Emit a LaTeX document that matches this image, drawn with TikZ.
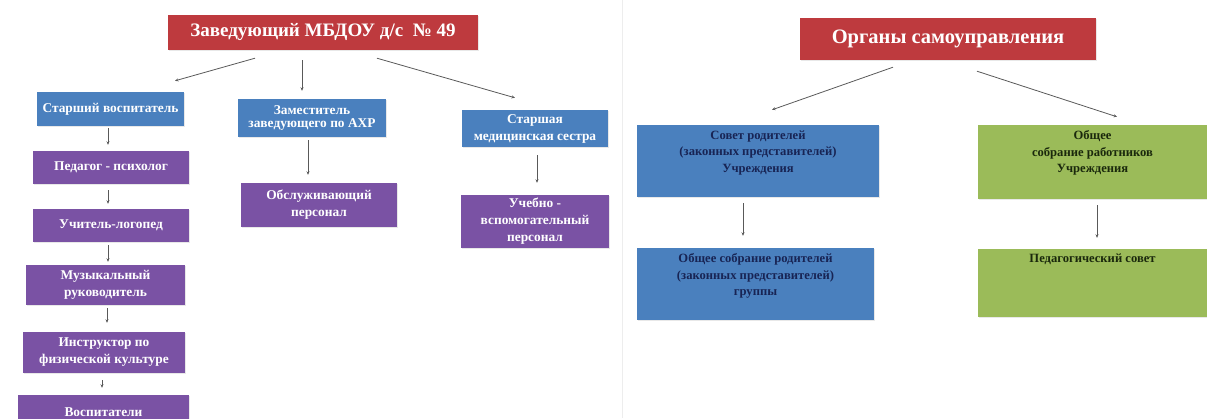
\documentclass[tikz,border=0pt]{standalone}
\usepackage{fontspec}
\setmainfont{Liberation Serif}
\usepackage{xcolor}
\usetikzlibrary{arrows.meta,shadows}

\definecolor{headred}{RGB}{190,58,62}
\definecolor{boxblue}{RGB}{74,128,190}
\definecolor{boxviolet}{RGB}{122,82,164}
\definecolor{boxgreen}{RGB}{155,187,89}
\definecolor{textnavy}{RGB}{24,36,84}
\definecolor{textgreen}{RGB}{26,40,12}

\tikzset{
  box/.style={rectangle, inner sep=2pt, align=center,
    drop shadow={shadow xshift=1.2pt, shadow yshift=-1.2pt, fill=black!18}},
  head/.style={box, fill=headred, text=white,
    font=\fontsize{19}{21}\selectfont\bfseries},
  staff/.style={box, fill=boxblue, text=white,
    font=\fontsize{13.4}{17}\selectfont\bfseries},
  worker/.style={box, fill=boxviolet, text=white,
    font=\fontsize{13.4}{17}\selectfont\bfseries},
  council/.style={box, fill=boxblue, text=textnavy,
    font=\fontsize{12.6}{16.5}\selectfont\bfseries},
  meeting/.style={box, fill=boxgreen, text=textgreen,
    font=\fontsize{12.6}{16.5}\selectfont\bfseries},
  link/.style={draw=black!65, line width=0.8pt,
    -{Stealth[length=3.5pt,width=3pt]}}
}

\begin{document}
\begin{tikzpicture}[x=1pt,y=-1pt]
\useasboundingbox (0,0) rectangle (1207,418);
\clip (0,0) rectangle (1207,418);
\draw[black!7, line width=0.6pt] (622,0) -- (622,418);

% left chart
\node[head, minimum width=310, minimum height=35] (chief) at (323,32.5) {Заведующий МБДОУ д/с~~№ 49};

\node[staff, minimum width=147, minimum height=34] (senior) at (110.5,109) {Старший воспитатель};
\node[staff, minimum width=148, minimum height=38, font=\fontsize{13.4}{13}\selectfont\bfseries] (deputy) at (312,118) {Заместитель\\заведующего по АХР};
\node[staff, minimum width=146, minimum height=37] (nurse) at (535,128.5) {Старшая\\медицинская сестра};

\node[worker, minimum width=156, minimum height=33] (psych) at (111,167.5) {Педагог - психолог};
\node[worker, minimum width=156, minimum height=33] (logop) at (111,225.5) {Учитель-логопед};
\node[worker, minimum width=159, minimum height=40] (music) at (105.5,285) {Музыкальный\\руководитель};
\node[worker, minimum width=162, minimum height=41] (sport) at (104,352.5) {Инструктор по\\физической культуре};
\node[worker, minimum width=171, minimum height=34] (tutors) at (103.5,412) {Воспитатели};
\node[worker, minimum width=156, minimum height=44] (service) at (319,205) {Обслуживающий\\персонал};
\node[worker, minimum width=148, minimum height=53] (helpers) at (535,221.5) {Учебно -\\вспомогательный\\персонал};

\draw[link] ([xshift=-68pt,yshift=-8pt]chief.south) -- ([xshift=64.5pt,yshift=11pt]senior.north);
\draw[link] ([xshift=-21pt,yshift=-10pt]chief.south) -- ([xshift=-10pt,yshift=8pt]deputy.north);
\draw[link] ([xshift=54pt,yshift=-8pt]chief.south) -- ([xshift=-20pt,yshift=12pt]nurse.north);
\draw[link] ([xshift=-2.5pt,yshift=-2pt]senior.south) -- ([xshift=-3pt,yshift=6pt]psych.north);
\draw[link] ([xshift=-3pt,yshift=-6pt]psych.south) -- ([xshift=-3pt,yshift=5pt]logop.north);
\draw[link] ([xshift=-3pt,yshift=-3pt]logop.south) -- ([xshift=2.5pt,yshift=3pt]music.north);
\draw[link] ([xshift=1.5pt,yshift=-3pt]music.south) -- ([xshift=3pt,yshift=9pt]sport.north);
\draw[link] ([xshift=-2pt,yshift=-7pt]sport.south) -- ([xshift=-1.5pt,yshift=7pt]tutors.north);
\draw[link] ([xshift=-4pt,yshift=-3pt]deputy.south) -- ([xshift=-11pt,yshift=8pt]service.north);
\draw[link] ([xshift=2pt,yshift=-8pt]nurse.south) -- ([xshift=2pt,yshift=12pt]helpers.north);

% right chart
\node[head, minimum width=296, minimum height=42, font=\fontsize{20.5}{22}\selectfont\bfseries] (organs) at (948,39) {Органы самоуправления};

\node[council, minimum width=242, minimum height=72, text depth=19pt] (parents) at (758,161) {Совет родителей\\(законных представителей)\\Учреждения};
\node[council, minimum width=237, minimum height=72, text depth=19pt] (groups) at (755.5,284) {Общее собрание родителей\\(законных представителей)\\группы};
\node[meeting, minimum width=229, minimum height=74, text depth=21pt] (staffmeet) at (1092.5,162) {Общее\\собрание работников\\Учреждения};
\node[meeting, minimum width=229, minimum height=68, text depth=49pt] (pedcouncil) at (1092.5,283) {Педагогический совет};

\draw[link] ([xshift=-55pt,yshift=-7pt]organs.south) -- ([xshift=14pt,yshift=15pt]parents.north);
\draw[link] ([xshift=29pt,yshift=-11pt]organs.south) -- ([xshift=24.5pt,yshift=8pt]staffmeet.north);
\draw[link] ([xshift=-15pt,yshift=-6pt]parents.south) -- ([xshift=-12.5pt,yshift=12pt]groups.north);
\draw[link] ([xshift=4.5pt,yshift=-6pt]staffmeet.south) -- ([xshift=4.5pt,yshift=11pt]pedcouncil.north);
\end{tikzpicture}
\end{document}
